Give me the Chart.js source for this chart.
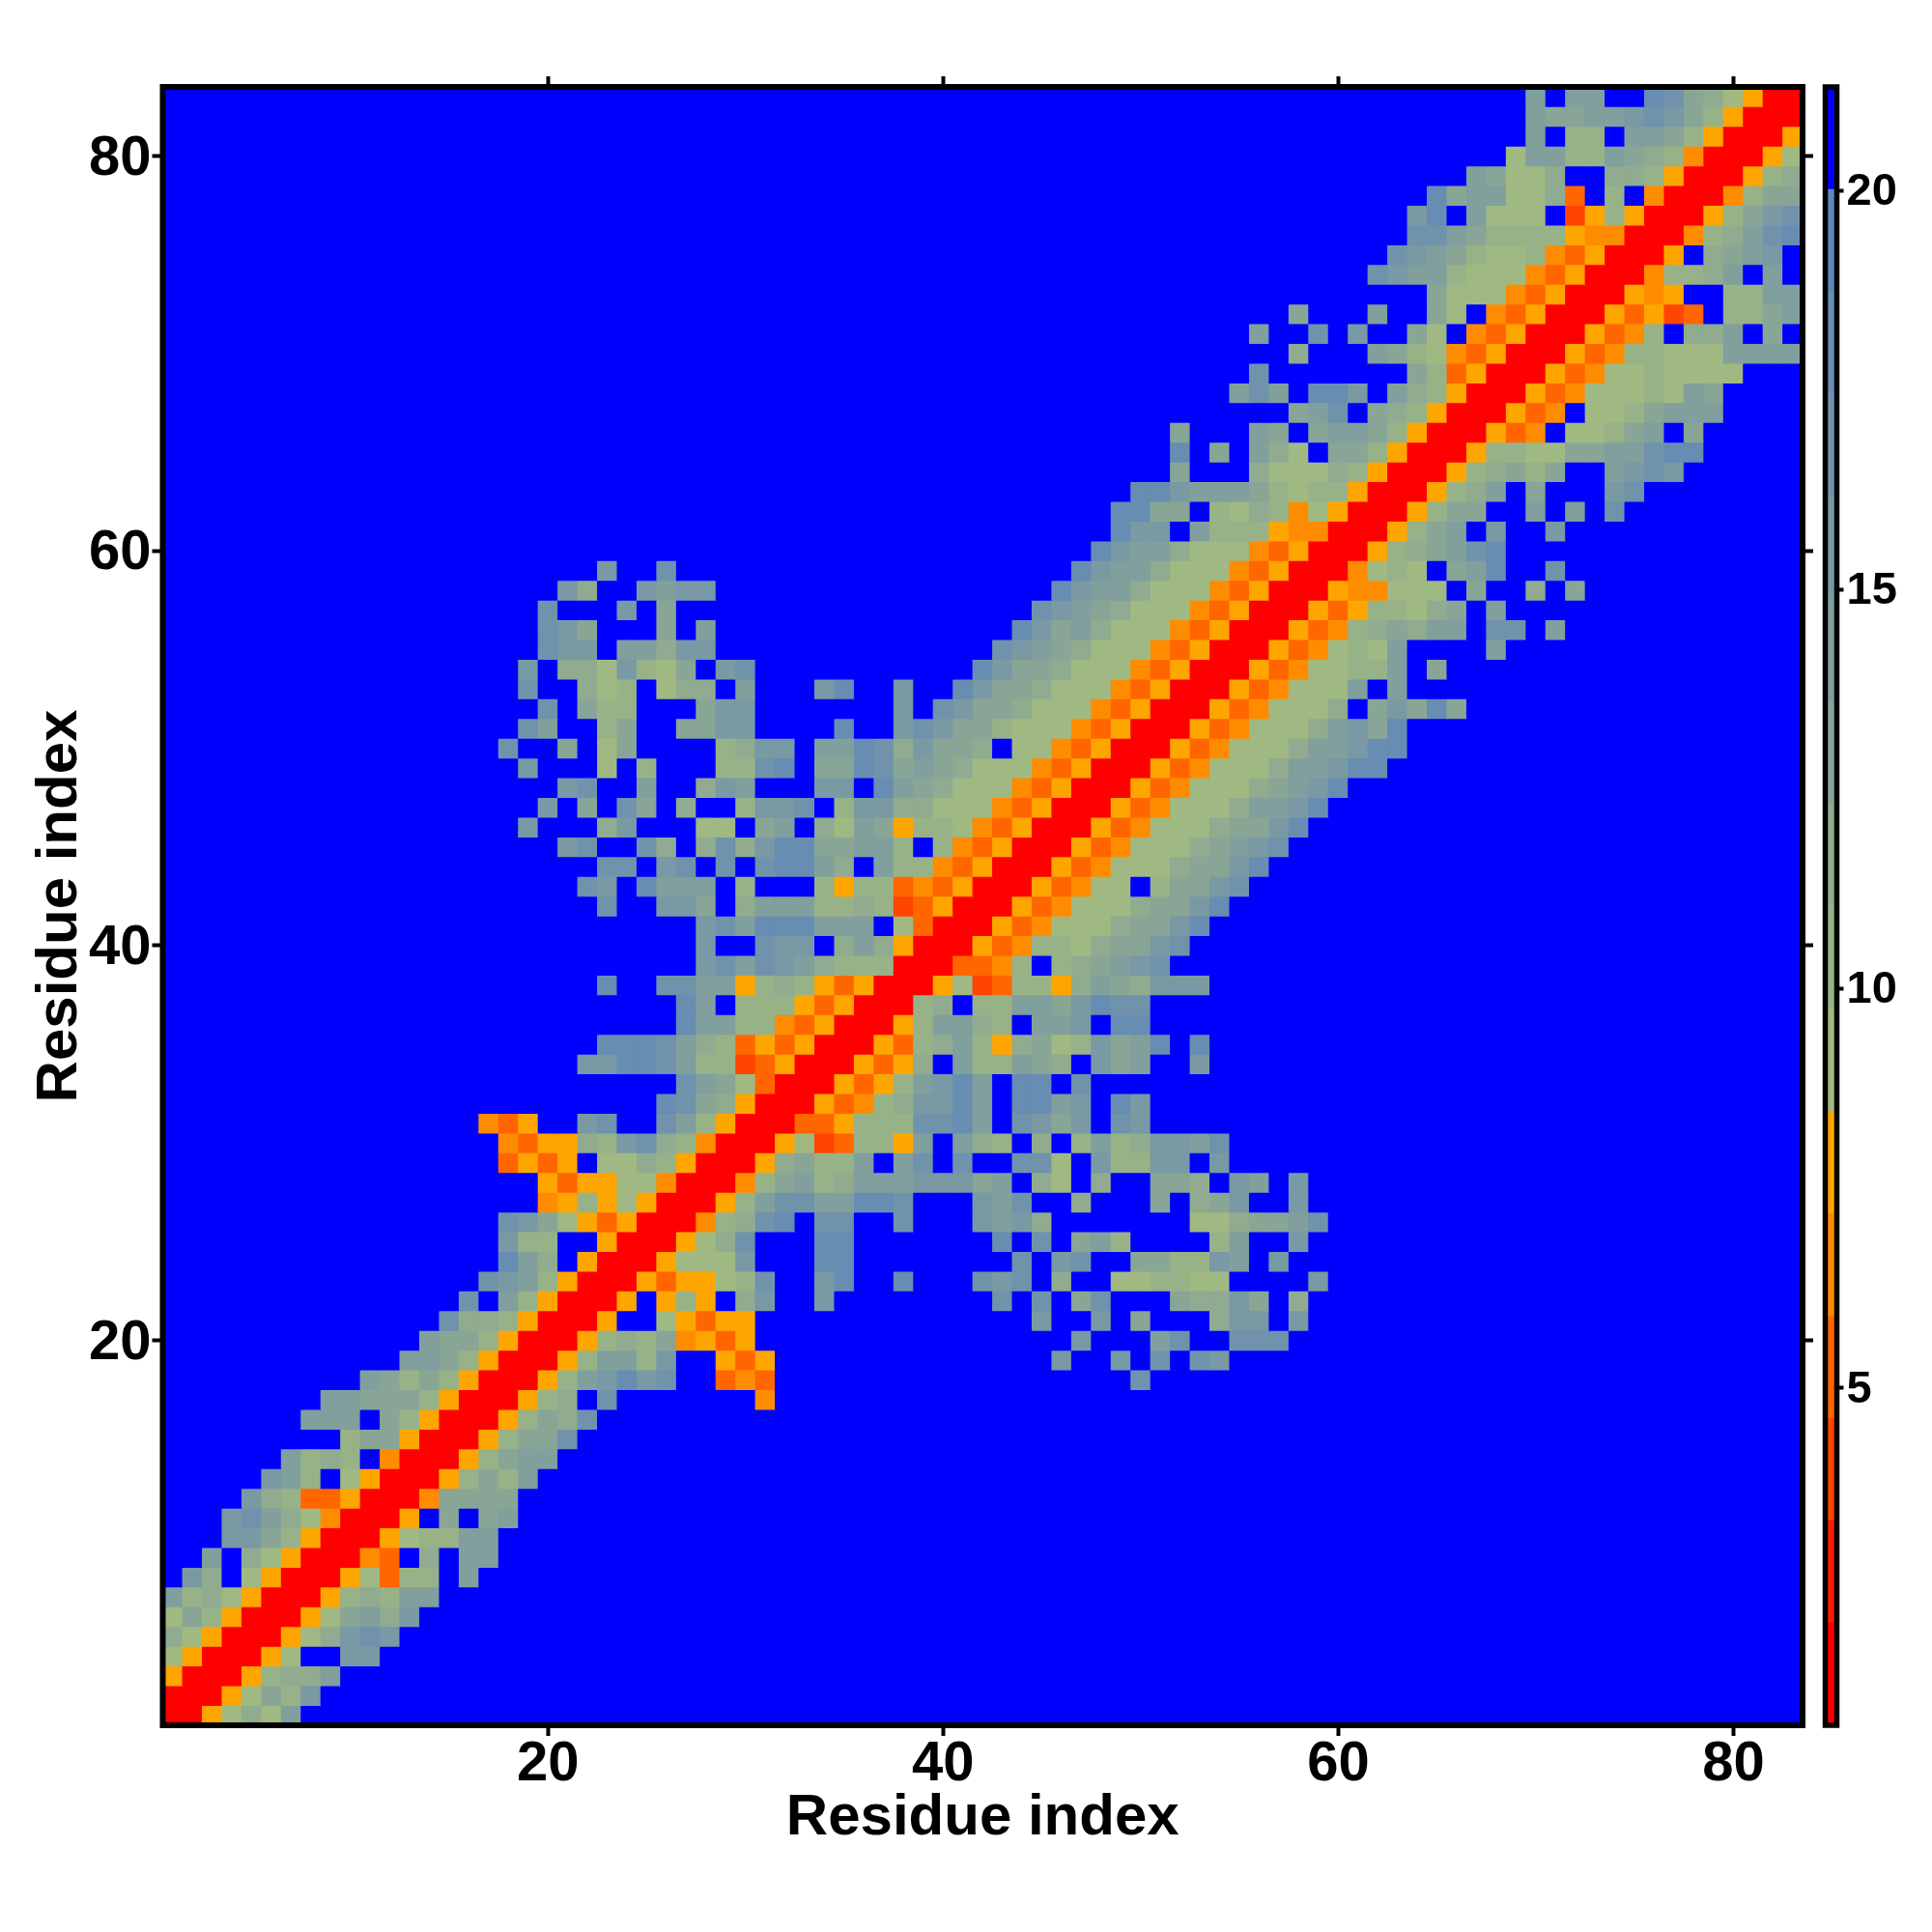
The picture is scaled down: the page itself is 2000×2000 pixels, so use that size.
<!DOCTYPE html>
<html>
<head>
<meta charset="utf-8">
<script src="https://cdn.jsdelivr.net/npm/chart.js@4/dist/chart.umd.min.js"></script>
<style>
html,body{margin:0;padding:0;background:#fff;}
canvas{position:absolute;top:0;display:block;}
</style>
</head>
<body>
<canvas id="heat" width="2000" height="2000" style="left:0"></canvas>
<canvas id="bar" width="140" height="2000" style="left:1860px"></canvas>
<script>
const axisTitle = "Residue index";
const axisTicks = [20, 40, 60, 80];
const barTicks = [5, 10, 15, 20];
const residueCount = 83;
// Colour key: 16 equal bands from about 0.77 to 21.3
const bandLow = 0.77;
const bandHigh = 21.3;
const bandColors = ["#ff0000","#f52000","#ff4500","#ff6600","#ff8c00","#ffa500",
  "#a0b982","#98b288","#90ab8f","#89a596","#819f9d","#7999a4","#7093ab","#688db2","#5a87bc","#0000ff"];
// Band for each residue pair; each string starts on the diagonal
// (first character = column equal to the row) and is blue beyond its end.
// 1-9,a-f,g = band number 1..16
const upperRows = [
"116797b","1167a8c","116899b","1167ggcc","11679cdc","1167ab9c","116898bb","1167488gb","1154g9gbb","116788bb",
"116gagab","115aaaa","1168a8b","1168abb","1168aad","1168a9d",
"11689gdggggggg5",
"1168bcecdgg454ggggggggggggggggggd",
"1168bb8cgg646ggggggggggggggcggcgdgdc",
"116898a5646ggggggggggggggggcgggbdggddd",
"116gg76466ggggggggggggggcggcgaggg9ccgc",
"116g686g9cggcggggggggdgdgadggga99cag9",
"11646678dggceggegggdcdg9gg778877ggggc",
"116777cgggeeggggggggdgcdggaa88cbgc",
"11679dgggeegggggggegdgab8gggg8bggc",
"11589degddggdgggcbc9ggggggg779aabd",
"1168bddbbeedgggcbdgg9gggag9acggc",
"1158ab89bbbcccabg97g9ggaa9gcbgc",
"1169a88bgbdgdggdd7gc88ccgc",
"116734886bgb98g9g8b89ccbd",
"11446888ddebgdcacgdc",
"1164589ccebgeebcgec",
"116468bcebgeegd",
"116469gb88ba9gcabggc",
"116489b869a78cabege",
"1168bb98gbbcgee",
"1189g88bbacedd",
"1167348869ba9ccc",
"114458g89abcd",
"116458879aacd",
"116457779aace",
"116457779aace",
"1164577g8aacd",
"116457779aace",
"116457779abcd",
"116457779aace",
"116457779bbce",
"116457779abce",
"116457779bbcee",
"116457779bbcee",
"116457779bcae",
"116457779gacaea",
"11645777bgb",
"116457788bga",
"11645787bggggb",
"1164589a9bbgddgb",
"116468879agb",
"11655777gagg9ga",
"115787gabeggd",
"11689abde",
"1168abgcggc",
"1168aaggbgbgd",
"11689bgagggcd",
"11689a8aggbcdc",
"1168877aabbdee",
"11645g778abga",
"11645g778abbb",
"1164577787ba",
"116457787777",
"1164588777bbbb",
"116458g99bgag",
"1164634g88ab",
"11656gg88bb",
"115889bgbg",
"116g9abcg",
"11589bde",
"1168acd",
"1158aa",
"11689",
"1167",
"116",
"11",
"1"
];

const bandStep = (bandHigh - bandLow) / bandColors.length;
function bandAt(col, row) {
  const r = Math.min(col, row), c = Math.max(col, row);
  const ch = upperRows[r - 1][c - r];
  return ch === undefined ? 16 : parseInt(ch, 17);
}
const cells = [];
for (let row = 1; row <= residueCount; row++) {
  for (let col = 1; col <= residueCount; col++) {
    cells.push({x: col, y: row, v: bandLow + (bandAt(col, row) - 0.5) * bandStep});
  }
}
function cellColor(v) {
  const i = Math.min(bandColors.length - 1, Math.max(0, Math.floor((v - bandLow) / bandStep)));
  return bandColors[i];
}
const fontFamily = "'Liberation Sans', Arial, sans-serif";
const labelFont = {family: fontFamily, weight: "bold", size: 58};
const titleFont = {family: fontFamily, weight: "bold", size: 60};
const makeFrame = (width, fill) => ({
  id: "frame",
  beforeDatasetsDraw(chart) {
    if (!fill) return;
    const a = chart.chartArea, c = chart.ctx;
    c.save();
    c.fillStyle = fill;
    c.fillRect(a.left, a.top, a.right - a.left, a.bottom - a.top);
    c.restore();
  },
  afterDatasetsDraw(chart) {
    const a = chart.chartArea, c = chart.ctx;
    c.save();
    c.strokeStyle = "#000";
    c.lineWidth = width;
    c.strokeRect(a.left, a.top, a.right - a.left, a.bottom - a.top);
    c.restore();
  }
});
const setTicks = list => s => { s.ticks = list.map(v => ({value: v})); };
const gridStyle = {drawOnChartArea: false, drawTicks: true, tickLength: 11, tickWidth: 4, color: "#000"};
function axis(position, size, extra) {
  return Object.assign({
    type: "linear", position, min: 0.5, max: residueCount + 0.5,
    afterBuildTicks: setTicks(axisTicks),
    afterFit(s) { if (s.isHorizontal()) s.height = size; else s.width = size; },
    grid: gridStyle, border: {display: false}
  }, extra);
}
new Chart(document.getElementById("heat"), {
  type: "scatter",
  data: {datasets: [{
    data: cells, clip: 0,
    pointStyle: "rect", borderWidth: 0, pointBorderWidth: 0,
    pointRadius: ctx => (ctx.chart.chartArea ? (ctx.chart.chartArea.right - ctx.chart.chartArea.left) / residueCount + 0.8 : 21) * Math.SQRT1_2,
    pointHoverRadius: 15,
    pointBackgroundColor: ctx => ctx.raw ? cellColor(ctx.raw.v) : "#0000ff"
  }]},
  plugins: [makeFrame(6, bandColors[bandColors.length - 1])],
  options: {
    responsive: false, animation: false,
    events: [],
    plugins: {legend: {display: false}, tooltip: {enabled: false}},
    layout: {padding: 0},
    scales: {
      x: axis("bottom", 214, {
        ticks: {font: labelFont, color: "#000", padding: -5, maxRotation: 0, autoSkip: false},
        title: {display: true, text: axisTitle, font: titleFont, color: "#000", padding: {top: 0, bottom: 82}}
      }),
      xTop: axis("top", 90, {ticks: {display: false}}),
      y: axis("left", 168.5, {
        ticks: {font: labelFont, color: "#000", padding: 1, labelOffset: 3, autoSkip: false},
        title: {display: true, text: axisTitle, font: titleFont, color: "#000", padding: {top: 26.5, bottom: 0}}
      }),
      yRight: axis("right", 134, {ticks: {display: false}})
    }
  }
});
new Chart(document.getElementById("bar"), {
  type: "bar",
  data: {
    labels: [""],
    datasets: bandColors.map((color, i) => ({
      data: [[bandLow + i * bandStep, bandLow + (i + 1) * bandStep]],
      backgroundColor: color, borderWidth: 0, grouped: false,
      barPercentage: 1, categoryPercentage: 1
    }))
  },
  plugins: [makeFrame(5.5, null)],
  options: {
    responsive: false, animation: false,
    events: [],
    plugins: {legend: {display: false}, tooltip: {enabled: false}},
    layout: {padding: {left: 29.5, top: 90, bottom: 214, right: 0}},
    scales: {
      x: {display: false},
      y: {
        position: "right", min: bandLow, max: bandHigh,
        afterBuildTicks: setTicks(barTicks),
        afterFit(s) { s.width = 98.5; },
        grid: {drawOnChartArea: false, drawTicks: true, tickLength: 7, tickWidth: 4, color: "#000"},
        border: {display: false},
        ticks: {font: {family: fontFamily, weight: "bold", size: 47}, color: "#000", padding: 3, labelOffset: 2, autoSkip: false}
      }
    }
  }
});
</script>
</body>
</html>
